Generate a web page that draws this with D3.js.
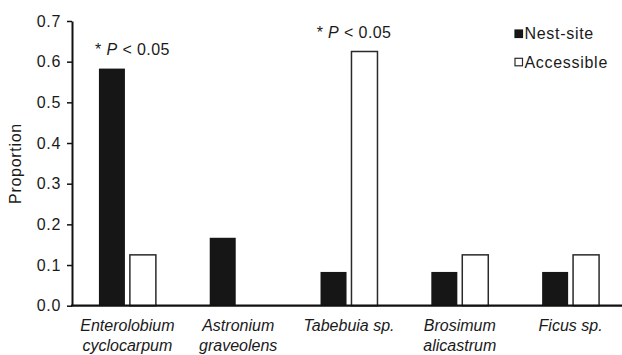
<!DOCTYPE html>
<html>
<head>
<meta charset="utf-8">
<script src="https://cdn.jsdelivr.net/npm/d3@7"></script>
<style>
  body { margin: 0; background: #fff; }
  text { font-family: "Liberation Sans", Arial, sans-serif; fill: #1a1a1a; }
</style>
</head>
<body>
<div id="chart"></div>
<script>
var categories = [["Enterolobium", "cyclocarpum"], ["Astronium", "graveolens"], ["Tabebuia sp."], ["Brosimum", "alicastrum"], ["Ficus sp."]];
var series = ["Nest-site", "Accessible"];
var nestSite = [0.583, 0.167, 0.083, 0.083, 0.083];
var accessible = [0.125, 0, 0.625, 0.125, 0.125];
var significance = [true, false, true, false, false];
var yTicks = [0, 0.1, 0.2, 0.3, 0.4, 0.5, 0.6, 0.7];

function drawChart() {
    var w = 622;
    var h = 355;

    var svg = d3.select("#chart")
                .append("svg")
                .attr("width", w)
                .attr("height", h);

    var x0 = d3.scaleBand()
                .domain(d3.range(categories.length))
                .range([72, 626])
                .paddingInner(0.486)
                .paddingOuter(0.243);

    var x1 = d3.scaleBand()
                .domain(series)
                .range([0, x0.bandwidth()])
                .paddingInner(0.16);

    var y = d3.scaleLinear()
                .domain([0, 0.7])
                .range([305.7, 21]);

    var colors = { "Nest-site": "#161616", "Accessible": "#ffffff" };

    // y axis
    var yAxis = svg.append("g")
                .attr("transform", "translate(72,0)")
                .call(d3.axisLeft(y)
                        .tickValues(yTicks)
                        .tickFormat(d3.format(".1f"))
                        .tickSize(5)
                        .tickSizeOuter(0)
                        .tickPadding(6));
    yAxis.select(".domain").attr("stroke", "#111").attr("stroke-width", 2);
    yAxis.selectAll(".tick line").attr("stroke", "#111").attr("stroke-width", 1.5);
    yAxis.selectAll(".tick text")
        .attr("font-size", "16px")
        .style("letter-spacing", "0.7px")
        .attr("fill", "#1a1a1a")
        .attr("font-family", "Liberation Sans, Arial, sans-serif");

    svg.append("text")
        .attr("transform", "translate(21,163.5) rotate(-90)")
        .attr("text-anchor", "middle")
        .attr("font-size", "16px")
        .style("letter-spacing", "0.7px")
        .text("Proportion");

    // bars
    var groups = svg.selectAll("g.group")
                    .data(categories)
                    .enter()
                    .append("g")
                    .attr("class", "group")
                    .attr("transform", function(d, i) {
                        return "translate(" + x0(i) + ",0)";
                    });

    groups.selectAll("rect")
        .data(function(d, i) {
            return [
                { key: "Nest-site", value: nestSite[i] },
                { key: "Accessible", value: accessible[i] }
            ].filter(function(b) { return b.value > 0; });
        })
        .enter()
        .append("rect")
        .attr("x", function(d) { return x1(d.key); })
        .attr("y", function(d) { return y(d.value); })
        .attr("width", x1.bandwidth())
        .attr("height", function(d) { return y(0) - y(d.value); })
        .attr("fill", function(d) { return colors[d.key]; })
        .attr("stroke", function(d) { return d.key == "Accessible" ? "#2a2a2a" : "none"; })
        .attr("stroke-width", 1.5);

    // x axis line
    svg.append("line")
        .attr("x1", 71)
        .attr("x2", 626)
        .attr("y1", y(0))
        .attr("y2", y(0))
        .attr("stroke", "#111")
        .attr("stroke-width", 2.2);

    // category labels
    var labels = groups.append("text")
        .attr("text-anchor", "middle")
        .attr("font-size", "16px")
        .attr("font-style", "italic")
        .attr("x", x0.bandwidth() / 2)
        .attr("y", 331);
    labels.selectAll("tspan")
        .data(function(d) { return d; })
        .enter()
        .append("tspan")
        .attr("x", x0.bandwidth() / 2)
        .attr("dy", function(d, i) { return i == 0 ? 0 : 19.5; })
        .text(function(d) { return d; });

    // significance notes
    var notes = groups.filter(function(d, i) { return significance[i]; })
        .append("text")
        .attr("text-anchor", "middle")
        .attr("font-size", "16px")
        .style("letter-spacing", "0.4px")
        .attr("x", x0.bandwidth() / 2 + 5)
        .attr("y", function(d) {
            var i = categories.indexOf(d);
            return y(Math.max(nestSite[i], accessible[i])) - 13.5;
        });
    notes.append("tspan").text("* ");
    notes.append("tspan").attr("font-style", "italic").text("P");
    notes.append("tspan").text(" < 0.05");

    // legend
    var legend = svg.selectAll("g.legend")
                    .data(series)
                    .enter()
                    .append("g")
                    .attr("class", "legend")
                    .attr("transform", function(d, i) {
                        return "translate(515," + (30 + i * 28.3) + ")";
                    });
    legend.append("rect")
        .attr("width", 7.5)
        .attr("height", 7.5)
        .attr("fill", function(d) { return colors[d]; })
        .attr("stroke", function(d) { return d == "Accessible" ? "#2a2a2a" : "#161616"; })
        .attr("stroke-width", 1.2);
    legend.append("text")
        .attr("x", 9.5)
        .attr("y", 3.8)
        .attr("dy", "0.35em")
        .attr("font-size", "16px")
        .style("letter-spacing", "0.7px")
        .text(function(d) { return d; });
}

window.onload = drawChart;
</script>
</body>
</html>
